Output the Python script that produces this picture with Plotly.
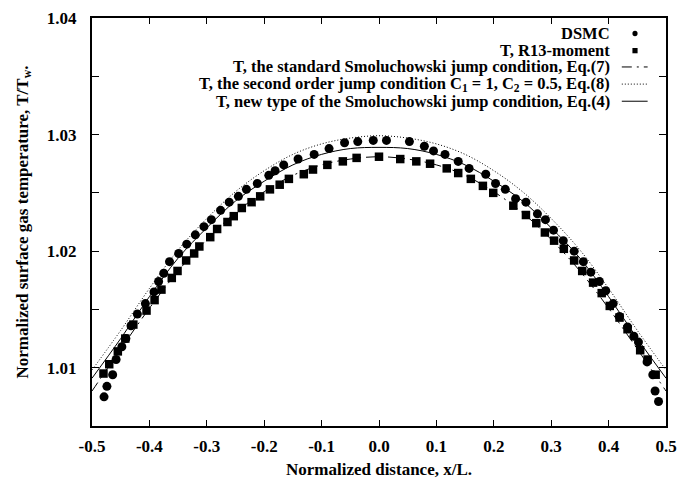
import plotly.graph_objects as go

# ---------------- data ----------------
dsmc_x = [-0.479, -0.474, -0.464, -0.458, -0.448, -0.441, -0.432, -0.421, -0.407, -0.392,
          -0.384, -0.375, -0.365, -0.349, -0.335, -0.320, -0.305, -0.292, -0.276, -0.261,
          -0.245, -0.231, -0.212, -0.192, -0.181, -0.166, -0.141, -0.113, -0.087, -0.060,
          -0.037, -0.010, 0.013, 0.053, 0.079, 0.095, 0.115, 0.138, 0.157, 0.186,
          0.203, 0.220, 0.238, 0.256, 0.276, 0.290, 0.304, 0.321, 0.340, 0.356,
          0.369, 0.384, 0.395, 0.408, 0.419, 0.433, 0.444, 0.452, 0.467, 0.477,
          0.481, 0.487]
dsmc_y = [1.0075, 1.0084, 1.0094, 1.0107, 1.0118, 1.0125, 1.0136, 1.0146, 1.0155, 1.0165,
          1.0174, 1.0181, 1.0191, 1.0198, 1.0206, 1.0214, 1.0221, 1.0227, 1.0235, 1.0242,
          1.0247, 1.0253, 1.0258, 1.0265, 1.0269, 1.0274, 1.0279, 1.0283, 1.0288, 1.0293,
          1.0294, 1.0295, 1.0295, 1.0294, 1.0290, 1.0286, 1.0283, 1.0277, 1.0271, 1.0266,
          1.0258, 1.0253, 1.0245, 1.0242, 1.0232, 1.0227, 1.0218, 1.0209, 1.0200, 1.0191,
          1.0182, 1.0174, 1.0166, 1.0155, 1.0144, 1.0135, 1.0127, 1.0122, 1.0105, 1.0094,
          1.0080, 1.0071]

r13_x = [-0.480, -0.470, -0.455, -0.442, -0.428, -0.405, -0.391, -0.379, -0.361, -0.351,
         -0.336, -0.322, -0.313, -0.294, -0.282, -0.264, -0.253, -0.239, -0.222, -0.207,
         -0.190, -0.173, -0.157, -0.131, -0.115, -0.090, -0.063, -0.039, 0.000, 0.037,
         0.065, 0.089, 0.118, 0.138, 0.160, 0.181, 0.199, 0.234, 0.256, 0.274,
         0.289, 0.305, 0.322, 0.340, 0.354, 0.373, 0.388, 0.402, 0.419, 0.433,
         0.455, 0.468, 0.482]
r13_y = [1.0095, 1.0103, 1.0114, 1.0125, 1.0137, 1.0149, 1.0158, 1.0167, 1.0177, 1.0183,
         1.0192, 1.0198, 1.0204, 1.0212, 1.0219, 1.0225, 1.0230, 1.0237, 1.0242, 1.0247,
         1.0253, 1.0257, 1.0262, 1.0266, 1.0270, 1.0274, 1.0277, 1.0280, 1.0281, 1.0279,
         1.0277, 1.0275, 1.0271, 1.0267, 1.0262, 1.0256, 1.0250, 1.0239, 1.0231, 1.0224,
         1.0216, 1.0209, 1.0202, 1.0192, 1.0183, 1.0173, 1.0164, 1.0153, 1.0143, 1.0133,
         1.0115, 1.0107, 1.0094]

curve_x = [-0.50, -0.45, -0.40, -0.35, -0.30, -0.25, -0.20, -0.15, -0.10, -0.05, 0.00,
           0.05, 0.10, 0.15, 0.20, 0.25, 0.30, 0.35, 0.40, 0.45, 0.50]
std_y = [1.0080, 1.0116, 1.0151, 1.0183, 1.0210, 1.0233, 1.0251, 1.0265, 1.0274, 1.0279, 1.0281,
         1.0279, 1.0274, 1.0265, 1.0251, 1.0233, 1.0210, 1.0183, 1.0151, 1.0116, 1.0080]
second_y = [1.0098, 1.0132, 1.0168, 1.0201, 1.0228, 1.0251, 1.0269, 1.0283, 1.0292, 1.0297, 1.0299,
            1.0297, 1.0292, 1.0283, 1.0269, 1.0251, 1.0228, 1.0201, 1.0168, 1.0132, 1.0098]
new_y = [1.0091, 1.0125, 1.0161, 1.0194, 1.0220, 1.0243, 1.0260, 1.0274, 1.0283, 1.0288, 1.0289,
         1.0288, 1.0283, 1.0274, 1.0260, 1.0243, 1.0220, 1.0194, 1.0161, 1.0125, 1.0091]

x_ticks = [-0.5, -0.4, -0.3, -0.2, -0.1, 0.0, 0.1, 0.2, 0.3, 0.4, 0.5]
x_ticktext = ["-0.5", "-0.4", "-0.3", "-0.2", "-0.1", "0.0", "0.1", "0.2", "0.3", "0.4", "0.5"]
y_ticks = [1.01, 1.02, 1.03, 1.04]
y_ticktext = ["1.01", "1.02", "1.03", "1.04"]

legend_labels = [
    "DSMC",
    "T, R13-moment",
    "T, the standard Smoluchowski jump condition, Eq.(7)",
    "T, the second order jump condition C<sub>1</sub> = 1, C<sub>2</sub> = 0.5, Eq.(8)",
    "T, new type of the Smoluchowski jump condition, Eq.(4)",
]

FONT = "Liberation Serif, Times New Roman, Times, serif"
FS = 17
LFS = 16.5
DASHDOT = "10px,5px,2px,5px"
DOTTED = "1px,2px"

fig = go.Figure()
fig.add_trace(go.Scatter(x=curve_x, y=std_y, mode="lines", line_shape="spline",
                         line=dict(color="black", width=1, dash=DASHDOT), showlegend=False))
fig.add_trace(go.Scatter(x=curve_x, y=second_y, mode="lines", line_shape="spline",
                         line=dict(color="black", width=1, dash=DOTTED), showlegend=False))
fig.add_trace(go.Scatter(x=curve_x, y=new_y, mode="lines", line_shape="spline",
                         line=dict(color="black", width=1), showlegend=False))
fig.add_trace(go.Scatter(x=dsmc_x, y=dsmc_y, mode="markers",
                         marker=dict(symbol="circle", size=9, color="black"), showlegend=False))
fig.add_trace(go.Scatter(x=r13_x, y=r13_y, mode="markers",
                         marker=dict(symbol="square", size=8.5, color="black"), showlegend=False))

# ---- custom legend (text right-aligned, sample on the right) ----
rows = [0.962, 0.920, 0.880, 0.838, 0.796]
tx = 0.906
for lab, ry in zip(legend_labels, rows):
    fig.add_annotation(xref="paper", yref="paper", x=tx, y=ry, text="<b>%s</b>" % lab,
                       showarrow=False, xanchor="right", yanchor="middle",
                       font=dict(family=FONT, size=LFS, color="black"))
sx = 0.946
fig.add_shape(type="circle", xref="paper", yref="paper", layer="above",
              x0=sx - 0.0045, x1=sx + 0.0045, y0=rows[0] - 0.0065, y1=rows[0] + 0.0065,
              fillcolor="black", line=dict(width=0))
fig.add_shape(type="rect", xref="paper", yref="paper", layer="above",
              x0=sx - 0.0045, x1=sx + 0.0045, y0=rows[1] - 0.0065, y1=rows[1] + 0.0065,
              fillcolor="black", line=dict(width=0))
for ry, dsh in zip(rows[2:], [DASHDOT, DOTTED, "solid"]):
    fig.add_shape(type="line", xref="paper", yref="paper", layer="above",
                  x0=0.923, x1=0.968, y0=ry, y1=ry,
                  line=dict(color="black", width=1, dash=dsh))

axis_common = dict(showline=True, linecolor="black", linewidth=2, mirror="allticks",
                   ticks="inside", tickcolor="black", tickwidth=1, showgrid=False,
                   zeroline=False, automargin=False,
                   tickfont=dict(family=FONT, size=FS, color="black"))

fig.update_xaxes(range=[-0.5, 0.5], tickvals=x_ticks, ticktext=["<b>%s</b>" % t for t in x_ticktext],
                 ticklen=6, ticklabelstandoff=4,
                 title=dict(text="<b>Normalized distance, x/L.</b>", standoff=10,
                            font=dict(family=FONT, size=FS, color="black")),
                 **axis_common)
fig.update_yaxes(range=[1.005, 1.04], tickvals=y_ticks, ticktext=["<b>%s</b>" % t for t in y_ticktext],
                 ticklen=7, ticklabelstandoff=10,
                 minor=dict(dtick=0.005, tick0=1.005, ticks="inside", ticklen=7, tickcolor="black"),
                 title=dict(text="<b>Normalized surface gas temperature, T/T<sub>w</sub>.</b>", standoff=14,
                            font=dict(family=FONT, size=FS, color="black")),
                 **axis_common)

fig.update_layout(width=678, height=479, margin=dict(l=92, r=12, t=18, b=53),
                  plot_bgcolor="white", paper_bgcolor="white",
                  font=dict(family=FONT, size=FS, color="black"))

fig.write_html("out.html", config={"displayModeBar": False},
               post_script="document.body.style.margin='0px';")
